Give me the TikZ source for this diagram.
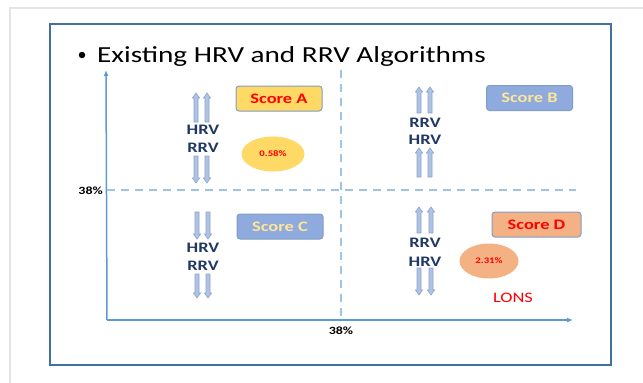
\documentclass[tikz,border=0pt]{standalone}
\usepackage{fontspec}
\setmainfont{Carlito}[FakeStretch=1.27]
\usetikzlibrary{arrows.meta,shapes.geometric}

\definecolor{frameblue}{HTML}{41719C}
\definecolor{pagegray}{HTML}{E4E4E4}
\definecolor{axisblue}{HTML}{5B9BD5}
\definecolor{dashblue}{HTML}{9DC3E6}
\definecolor{boxline}{HTML}{7F9DC8}
\definecolor{gold}{HTML}{FFD966}
\definecolor{peach}{HTML}{F4B183}
\definecolor{softblue}{HTML}{8FAADC}
\definecolor{paleyellow}{HTML}{FFE699}
\definecolor{navy}{HTML}{1F3864}
\definecolor{arrowfill}{HTML}{AFC3E4}
\definecolor{arrowline}{HTML}{8BA2CB}

% small block arrows: x, tail y, tip y
\newcommand\blockarrow[3]{%
  \filldraw[arrowsty] (#1-2,#2) -- (#1-2,{#3+5*sign(#2-#3)}) -- (#1-3.6,{#3+5*sign(#2-#3)})
    -- (#1,#3) -- (#1+3.6,{#3+5*sign(#2-#3)}) -- (#1+2,{#3+5*sign(#2-#3)}) -- (#1+2,#2) -- cycle;}

\begin{document}
\begin{tikzpicture}[x=1pt,y=-1pt,
  arrowsty/.style={fill=arrowfill,draw=arrowline,line width=0.6pt},
  scorebox/.style={draw=boxline,line width=1pt,rounded corners=3pt,
    minimum width=86pt,minimum height=25pt,inner sep=0pt,
    font=\fontsize{14.5}{16}\selectfont\bfseries},
  pct/.style={ellipse,inner sep=0pt,minimum height=35pt,
    font=\fontsize{8.5}{9}\selectfont\bfseries,text=red},
  vlabel/.style={font=\fontsize{14.5}{16}\selectfont\bfseries,text=navy,inner sep=0pt},
  axislabel/.style={font=\fontsize{11}{12}\selectfont\bfseries,inner sep=0pt},
  axis/.style={draw=axisblue,line width=1.5pt},
  guide/.style={draw=dashblue,line width=1.5pt,dash pattern=on 8pt off 6pt}]

\useasboundingbox (0,0) rectangle (643,383);

% page edges and slide frame
\draw[pagegray,line width=1.5pt] (10,383) -- (10,8) -- (643,8);
\draw[frameblue,line width=2pt] (50,24) rectangle (611,365);

% title
\node[circle,fill=black,inner sep=0pt,minimum size=6.5pt] (bullet) at (82,55) {};
\node[inner sep=0pt,anchor=base west,font=\fontsize{23}{26}\selectfont] (title) at (97,62)
  {Existing HRV and RRV Algorithms};

% axes
\coordinate (origin) at (107,320);
\coordinate (ytop) at (106,70);
\coordinate (xend) at (573,320);
\draw[axis,-{Latex[length=6pt,width=5pt]}] (origin) -- (ytop);
\draw[axis,-{Latex[length=6pt,width=5pt]}] (origin) -- (xend);

% 38% thresholds
\coordinate (hstart) at (107,190);
\coordinate (hend) at (576,190);
\coordinate (vstart) at (341,70);
\coordinate (vend) at (341,320);
\draw[guide] (hstart) -- (hend);
\draw[guide] (vstart) -- (vend);
\node[axislabel,anchor=east] (ylab) at (103,191) {38\%};
\node[axislabel] (xlab) at (341,331) {38\%};

% quadrant A
\node[scorebox,fill=gold,text=red] (scoreA) at (279,98.5) {Score A};
\node[pct,fill=gold] (pctA) at (273,154) [minimum width=63pt] {0.58\%};
\blockarrow{196}{122}{93}
\blockarrow{207}{122}{93}
\node[vlabel] (hrvA) at (203,130) {HRV};
\node[vlabel] (rrvA) at (203,148) {RRV};
\blockarrow{196}{156}{183}
\blockarrow{207}{156}{183}

% quadrant B
\node[scorebox,fill=softblue,text=paleyellow] (scoreB) at (529.5,98) {Score B};
\blockarrow{419}{113}{87}
\blockarrow{430}{113}{87}
\node[vlabel] (rrvB) at (425,123) {RRV};
\node[vlabel] (hrvB) at (425,140) {HRV};
\blockarrow{419}{177}{148}
\blockarrow{430}{177}{148}

% quadrant C
\node[scorebox,fill=softblue,text=paleyellow] (scoreC) at (280,226.5) {Score C};
\blockarrow{197}{212}{239}
\blockarrow{208}{212}{239}
\node[vlabel] (hrvC) at (203,248) {HRV};
\node[vlabel] (rrvC) at (203,266) {RRV};
\blockarrow{197}{274}{298}
\blockarrow{208}{274}{298}

% quadrant D
\node[scorebox,fill=peach,text=red,minimum width=89pt] (scoreD) at (536.5,224.5) {Score D};
\node[pct,fill=peach] (pctD) at (489,261) [minimum width=59pt] {2.31\%};
\blockarrow{419}{233}{207}
\blockarrow{431}{233}{207}
\node[vlabel] (rrvD) at (425,243) {RRV};
\node[vlabel] (hrvD) at (425,262) {HRV};
\blockarrow{419}{268}{295}
\blockarrow{431}{268}{295}
\node[inner sep=0pt,text=red,font=\fontsize{14.5}{16}\selectfont] (lons) at (513,298) {LONS};

\end{tikzpicture}
\end{document}
